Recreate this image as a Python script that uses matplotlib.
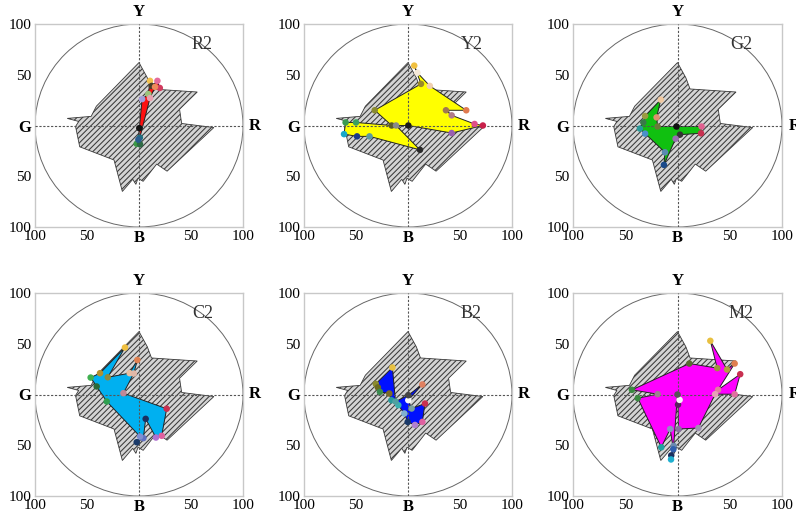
import matplotlib
matplotlib.use("Agg")
import matplotlib.pyplot as plt
from matplotlib.patches import Polygon, Ellipse

plt.rcParams["font.family"] = ["Liberation Serif", "DejaVu Serif"]
plt.rcParams["hatch.linewidth"] = 0.75

# Reference gamut outline (same in every panel)
gamut_x = [0, 8, 12, 56, 39, 41, 72, 27, 17, 4, -1, -3, -6, -16, -24, -57, -61, -58, -69, -46, -41]
gamut_y = [62, 47, 36, 33, 16, 2, -2, -45, -38, -55, -52, -58, -53, -65, -34, -21, -1, 4, 7, 9, 19]

# R2
r2_x = [3.0, 9.0, 10.6, 12.2, 17.7, 20.0, 15.4, 10.6, 0.8, -2.2, 1.0, -0.6, 0.3]
r2_y = [26.0, 31.0, 44.0, 39.0, 44.0, 37.0, 38.0, 27.0, -12.0, -18.0, -18.5, -14.0, -2.6]
r2_colors = ["#a49bd8", "#9cc47a", "#f2c14e", "#4a3f2a", "#e46a9a", "#d23a5e", "#ee8a5a",
             "#e8a0b0", "#1f6f7f", "#3c9a48", "#2f6b45", "#2a5d8f", "#111111"]

# Y2
y2_x = [6, 12.5, -32, -15.7, -50, -60, -61.5, -49, -37, 11.5, -11.5, 0.3, 42, 72, 64, 42,
        36.5, 56, 21, 9]
y2_y = [59, 41, 15, 0, 3, 3, -8.5, -10.7, -10.7, -24, 0, 0, -7.4, 0, 1.5, 10,
        15, 15, 39, 52]
y2_colors = ["#f0c040", "#9a8a2a", "#8a8a30", "#5a5a2a", "#3aa060", "#3a9a50", "#18a8c8",
             "#1a3a8a", "#5a9aa0", "#2a2a2a", "#8a8a8a", "#1a1a1a", "#9a60b0", "#c8204a",
             "#e0508a", "#b07a8a", "#a07850", "#e07a50", "#f0d0b0", "#f4e8d8"]

# G2
g2_x = [-16, -20, -19, -1, 23, 22.5, 2.4, -1.8, -13, -12, -31, -36, -32.7, -31]
g2_y = [25.5, 8, -1, -1, -1, -7.7, -9, -13, -38.8, -26.4, -8, -3, 3, 9.4]
g2_colors = ["#f0c8a0", "#e09070", "#6a7a3a", "#111111", "#e06090", "#c83050", "#333333",
             "#9a70b0", "#1a4a8a", "#5a8ab0", "#4a90c8", "#2a9a9a", "#3a7a4a", "#9a9a40"]

# C2
c2_x = [-13.5, -30, -9, -1.6, -5, -15, 26.6, 21.8, 16.3, 6.4, 4.2, -2.2, 1, -31, -40.7, -46.5, -37.5]
c2_y = [46.3, 17, 21, 34, 20.7, 1.3, -14, -40.7, -42.4, -24, -43, -47, -41.4, -6.9, 7.9, 16.7, 21]
c2_colors = ["#f0c040", "#8a8a40", "#e8c0a0", "#e08050", "#e0b8a8", "#c08898", "#c83050",
             "#e060a0", "#b070d0", "#1a3060", "#6070c0", "#1a3a6a", "#8090d0", "#30a050",
             "#2a6a3a", "#40b050", "#b09030"]

# B2
b2_x = [-15, -31, -29, -27, -18, -16, -9.3, -3.5, -0.3, 6.7, 13.8, 16.3, 3.5, 0.3, 13.8, 0.3, -12]
b2_y = [26.6, 10.5, 7, 2.6, 1, -5.6, -10.5, -18.7, -27, -30, -27, -8.9, -13.8, -5.6, 9.9, -0.7, -7]
b2_colors = ["#e8c040", "#8a8a30", "#6a6a20", "#3a8a50", "#7a6a2a", "#2a9a9a", "#3ab0b0",
             "#80b0d0", "#1a3a6a", "#b080d0", "#e060a0", "#c83050", "#7aa0a0", "#f8f8f8",
             "#e08060", "#444444", "#50a0a0"]

# M2
m2_x = [-43.6, 11.3, 38, 31.4, 47.4, 54.7, 38.8, 60, 54.7, 36, 20, 1, 0.5, 2, 0,
        -3.7, -6, -6.2, -4, -7, -15.5, -38, -19]
m2_y = [4.6, 30.5, 26, 52.9, 24.6, 30.5, 4.6, 20, 0.3, 0.3, -33, -34, -10, -5.3, 0,
        -50.6, -60, -64, -54, -34, -52, -3.6, 0.3]
m2_colors = ["#3a8a40", "#5a6a30", "#a09040", "#e8c040", "#b0a040", "#e08050", "#e080a0",
             "#c83050", "#e070a0", "#e8a0b8", "#a090b0", "#8a70a0", "#5a2060", "#f8f8f8",
             "#555555", "#6a8ab0", "#1a3060", "#20b0d0", "#3060b0", "#9090c0", "#20a0a0",
             "#3a8a40", "#a08090"]

panels = [
    ("R2", r2_x, r2_y, r2_colors, "#ff1010"),
    ("Y2", y2_x, y2_y, y2_colors, "#ffff00"),
    ("G2", g2_x, g2_y, g2_colors, "#10c010"),
    ("C2", c2_x, c2_y, c2_colors, "#00b0f0"),
    ("B2", b2_x, b2_y, b2_colors, "#0010ff"),
    ("M2", m2_x, m2_y, m2_colors, "#ff00ff"),
]

W, H = 796, 518
fig = plt.figure(figsize=(W / 100, H / 100), dpi=100)

col_left = [35, 304, 573]
col_width = [208, 208, 209]
row_top = [24, 293]
ax_h = 203

for i, (name, xs, ys, cols, fillc) in enumerate(panels):
    r, c = divmod(i, 3)
    ax = fig.add_axes([col_left[c] / W, (H - row_top[r] - ax_h) / H,
                       col_width[c] / W, ax_h / H])
    ax.set_xlim(-100, 100)
    ax.set_ylim(-100, 100)

    for sp in ax.spines.values():
        sp.set_color("#c8c8c8")
        sp.set_linewidth(1.0)

    ax.set_xticks([-100, -50, 0, 50, 100])
    ax.set_xticklabels(["100", "50", "B", "50", "100"])
    ax.set_yticks([100, 50, 0, -50, -100])
    ax.set_yticklabels(["100", "50", "G", "50", "100"])
    ax.tick_params(length=0, labelsize=11, pad=2.5)
    for lab in ax.get_xticklabels() + ax.get_yticklabels():
        if lab.get_text() in ("B", "G"):
            lab.set_fontweight("bold")
            lab.set_fontsize(12)

    ax.text(0.5, 1.02, "Y", transform=ax.transAxes, ha="center", va="bottom",
            fontsize=12, fontweight="bold")
    ax.text(1.03, 0.5, "R", transform=ax.transAxes, ha="left", va="center",
            fontsize=12, fontweight="bold")
    ax.text(61, 80, name, ha="center", va="center", fontsize=13, color="#333333")

    # outer circle
    ax.add_patch(Ellipse((0, 0), 200, 200, fill=False, edgecolor="#666666",
                         linewidth=0.7, zorder=1))

    # reference gamut, hatched
    ax.add_patch(Polygon(list(zip(gamut_x, gamut_y)), closed=True,
                         facecolor="#d4d4d4", edgecolor="#3a3a3a", hatch="//////",
                         linewidth=0.6, zorder=2))

    # measured polygon
    ax.add_patch(Polygon(list(zip(xs, ys)), closed=True, facecolor=fillc,
                         edgecolor="#222222", linewidth=0.7, zorder=3))

    # crosshair
    ax.axhline(0, color="#555555", linewidth=0.8, linestyle=(0, (2, 1.5)), zorder=4)
    ax.axvline(0, color="#555555", linewidth=0.8, linestyle=(0, (2, 1.5)), zorder=4)

    # sample points
    ax.scatter(xs, ys, s=22, c=cols, edgecolors="none", zorder=5)

fig.savefig("out.png", dpi=100)
